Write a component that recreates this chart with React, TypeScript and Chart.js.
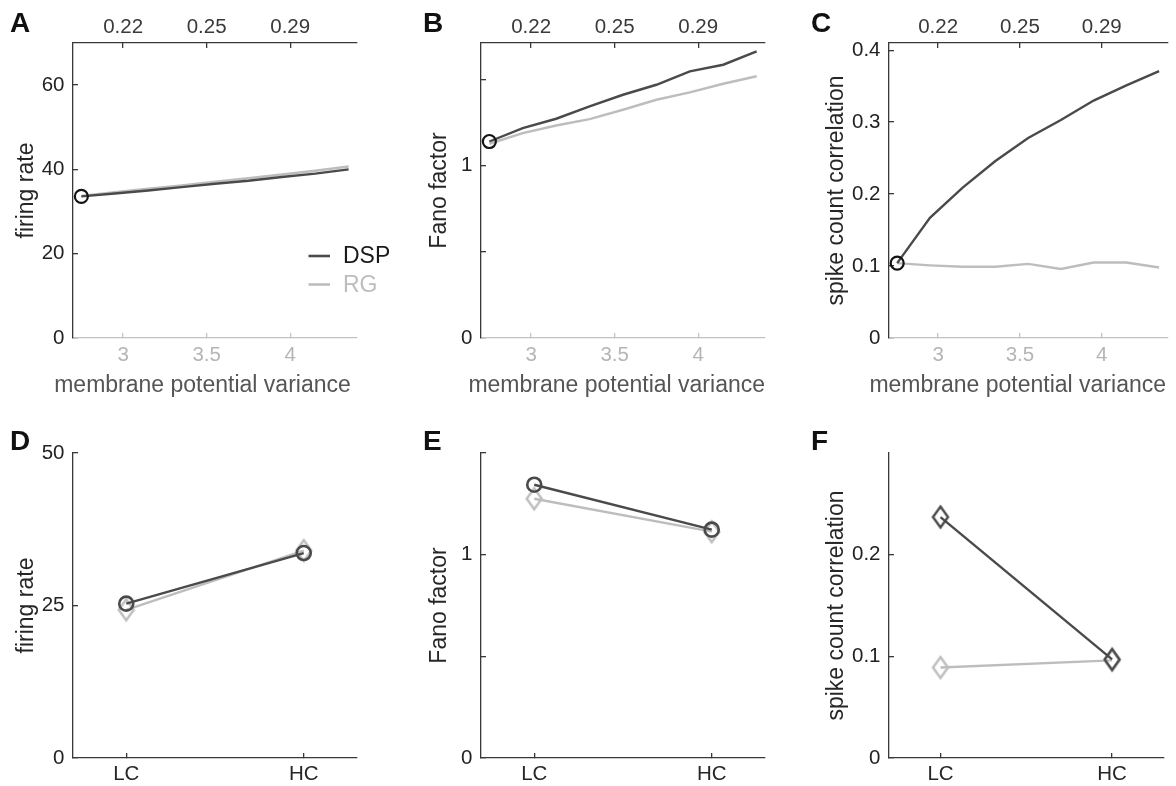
import React, { useEffect, useRef } from 'react';
import { Chart, registerables } from 'chart.js';

Chart.register(...registerables);

const FONT = "'Liberation Sans', Arial, Helvetica, sans-serif";

// ---------------- data ----------------
const variance = [2.75, 2.95, 3.15, 3.35, 3.55, 3.75, 3.95, 4.15, 4.35];
const varianceTicks = [3, 3.5, 4];
const varianceTickLabels = ['3', '3.5', '4'];
const stdTickLabels = ['0.22', '0.25', '0.29'];

const rateDSP = [33.6, 34.3, 35.0, 35.8, 36.6, 37.3, 38.2, 39.0, 40.0];
const rateRG = [33.7, 34.6, 35.4, 36.2, 37.1, 37.9, 38.8, 39.7, 40.7];
const fanoDSP = [1.139, 1.217, 1.271, 1.342, 1.41, 1.468, 1.546, 1.584, 1.662];
const fanoRG = [1.126, 1.188, 1.232, 1.269, 1.323, 1.381, 1.424, 1.474, 1.517];
const corrDSP = [0.104, 0.167, 0.209, 0.246, 0.278, 0.303, 0.33, 0.351, 0.371];
const corrRG = [0.104, 0.101, 0.099, 0.099, 0.103, 0.096, 0.105, 0.105, 0.098];

const conditions = ['LC', 'HC'];
const conditionIndex = [0, 1];
const condRateDSP = [25.3, 33.6];
const condRateRG = [24.3, 34.0];
const condFanoDSP = [1.344, 1.123];
const condFanoRG = [1.275, 1.113];
const condCorrDSP = [0.237, 0.097];
const condCorrRG = [0.089, 0.096];

const seriesNames = ['DSP', 'RG'];

const rateTicks = [0, 20, 40, 60];
const rateTickLabels = ['0', '20', '40', '60'];
const fanoTicks = [0, 0.5, 1, 1.5];
const fanoTickLabels = ['0', '', '1', ''];
const corrTicks = [0, 0.1, 0.2, 0.3, 0.4];
const corrTickLabels = ['0', '0.1', '0.2', '0.3', '0.4'];
const condRateTicks = [0, 25, 50];
const condRateTickLabels = ['0', '25', '50'];
const condCorrTicks = [0, 0.1, 0.2];
const condCorrTickLabels = ['0', '0.1', '0.2'];

const xAxisTitle = 'membrane potential variance';

// ---------------- styles ----------------
const DSP_COLOR = '#4a4a4a';
const RG_COLOR = '#bdbdbd';
const AXIS_DARK = '#383838';
const AXIS_LIGHT = '#c2c2c2';

function makeDiamond(color: string) {
  const c = document.createElement('canvas');
  const hw = 7.5, hh = 10.5, lw = 2.4;
  c.width = Math.ceil(2 * hw + 2 * lw);
  c.height = Math.ceil(2 * hh + 2 * lw);
  const g = c.getContext('2d')!;
  const cx = c.width / 2, cy = c.height / 2;
  g.strokeStyle = color;
  g.lineWidth = lw;
  g.lineJoin = 'miter';
  g.beginPath();
  g.moveTo(cx, cy - hh);
  g.lineTo(cx + hw, cy);
  g.lineTo(cx, cy + hh);
  g.lineTo(cx - hw, cy);
  g.closePath();
  g.stroke();
  return c;
}

const decorPlugin = {
  id: 'panelDecor',
  afterDraw(chart: any, _args: any, opts: any) {
    const ctx = chart.ctx;
    ctx.save();
    if (opts.letter) {
      ctx.font = `bold 28px ${FONT}`;
      ctx.fillStyle = '#111111';
      ctx.textAlign = 'left';
      ctx.textBaseline = 'alphabetic';
      ctx.fillText(opts.letter, opts.letterX, opts.letterY);
    }
    if (opts.xTitle) {
      ctx.font = `23px ${FONT}`;
      ctx.fillStyle = '#555555';
      ctx.textAlign = 'center';
      ctx.textBaseline = 'alphabetic';
      ctx.fillText(opts.xTitle.text, opts.xTitle.cx, opts.xTitle.baseline);
    }
    if (opts.legend) {
      const L = opts.legend;
      chart.data.datasets.forEach((ds: any, i: number) => {
        const y = L.y + i * L.gap;
        ctx.strokeStyle = ds.borderColor;
        ctx.lineWidth = 2.6;
        ctx.beginPath();
        ctx.moveTo(L.x, y);
        ctx.lineTo(L.x + L.len, y);
        ctx.stroke();
        ctx.font = `23px ${FONT}`;
        ctx.fillStyle = L.textColors[i];
        ctx.textAlign = 'left';
        ctx.textBaseline = 'middle';
        ctx.fillText(ds.label, L.textX, y + 1);
      });
    }
    ctx.restore();
  },
};

type Series = { label: string; xs: number[]; ys: number[]; color: string; marker: string };

type PanelSpec = {
  x: number; y: number; w: number; h: number;
  area: { left: number; top: number; right: number; bottom: number };
  letter: string; letterX: number; letterY: number;
  xMin: number; xMax: number; xTicks: number[]; xLabels: string[];
  xAxisColor: string; xTickColor: string; xTickPad: number;
  xTitle?: { text: string; cx: number; baseline: number };
  topLabels?: string[];
  yMax: number; yTicks: number[]; yLabels: string[]; yTitle: string; yTitlePad: number;
  series: Series[];
  legend?: any;
};

function buildConfig(p: PanelSpec): any {
  const tl = -5;
  const tickFont = { family: FONT, size: 20.5 };
  const titleFont = { family: FONT, size: 23 };
  const diamonds: Record<string, HTMLCanvasElement> = {};

  const datasets = p.series.map((s) => {
    const base: any = {
      label: s.label,
      data: s.xs.map((x, i) => ({ x, y: s.ys[i] })),
      borderColor: s.color,
      backgroundColor: s.color,
      borderWidth: 2.4,
      tension: 0,
      pointHoverRadius: 0,
    };
    if (s.marker === 'refCircle') {
      base.pointRadius = (c: any) => (c.dataIndex === 0 ? 6.5 : 0);
      base.pointStyle = 'circle';
      base.pointBorderColor = '#141414';
      base.pointBackgroundColor = 'rgba(0,0,0,0)';
      base.pointBorderWidth = 2.2;
    } else if (s.marker === 'circle') {
      base.pointRadius = 7;
      base.pointStyle = 'circle';
      base.pointBorderColor = s.color;
      base.pointBackgroundColor = 'rgba(0,0,0,0)';
      base.pointBorderWidth = 2.6;
    } else if (s.marker === 'diamond') {
      if (!diamonds[s.color]) diamonds[s.color] = makeDiamond(s.color);
      base.pointStyle = diamonds[s.color];
      base.pointRadius = 10;
    } else {
      base.pointRadius = 0;
    }
    return base;
  });

  const scales: any = {
    x: {
      type: 'linear',
      position: 'bottom',
      min: p.xMin,
      max: p.xMax,
      afterBuildTicks: (s: any) => { s.ticks = p.xTicks.map((v) => ({ value: v })); },
      afterFit: (s: any) => { s.height = p.h - p.area.bottom; },
      border: { display: true, color: p.xAxisColor, width: 1.3 },
      grid: { display: true, drawOnChartArea: false, drawTicks: true, tickLength: tl, color: p.xAxisColor, lineWidth: 1.3 },
      ticks: {
        padding: p.xTickPad, color: p.xTickColor, font: tickFont, autoSkip: false, maxRotation: 0, minRotation: 0,
        callback: (_v: any, i: number) => p.xLabels[i],
      },
      title: { display: false },
    },
    y: {
      type: 'linear',
      position: 'left',
      min: 0,
      max: p.yMax,
      afterBuildTicks: (s: any) => { s.ticks = p.yTicks.map((v) => ({ value: v })); },
      afterFit: (s: any) => { s.width = p.area.left; },
      border: { display: true, color: AXIS_DARK, width: 1.3 },
      grid: { display: true, drawOnChartArea: false, drawTicks: true, tickLength: tl, color: AXIS_DARK, lineWidth: 1.3 },
      ticks: {
        padding: 13.5, color: '#222222', font: tickFont, autoSkip: false,
        callback: (_v: any, i: number) => p.yLabels[i],
      },
      title: { display: true, text: p.yTitle, color: '#262626', font: titleFont, padding: { top: p.yTitlePad, bottom: 0 } },
    },
  };

  if (p.topLabels) {
    scales.x2 = {
      type: 'linear',
      position: 'top',
      min: p.xMin,
      max: p.xMax,
      afterBuildTicks: (s: any) => { s.ticks = p.xTicks.map((v) => ({ value: v })); },
      afterFit: (s: any) => { s.height = p.area.top; },
      border: { display: true, color: AXIS_DARK, width: 1.3 },
      grid: { display: true, drawOnChartArea: false, drawTicks: true, tickLength: tl, color: AXIS_DARK, lineWidth: 1.3 },
      ticks: {
        padding: 8.3, color: '#3a3a3a', font: tickFont, autoSkip: false, maxRotation: 0, minRotation: 0,
        callback: (_v: any, i: number) => p.topLabels![i],
      },
    };
  }

  return {
    type: 'line',
    data: { datasets },
    options: {
      responsive: false,
      maintainAspectRatio: false,
      animation: false,
      events: [],
      layout: {
        padding: { left: 0, top: p.topLabels ? 0 : p.area.top, right: p.w - p.area.right, bottom: 0 },
      },
      scales,
      plugins: {
        legend: { display: false },
        tooltip: { enabled: false },
        title: { display: false },
        panelDecor: { letter: p.letter, letterX: p.letterX, letterY: p.letterY, legend: p.legend, xTitle: p.xTitle },
      },
    },
    plugins: [decorPlugin],
  };
}

const topArea = (l: number, r: number) => ({ left: l, top: 43, right: r, bottom: 338 });
const botArea = (l: number, r: number) => ({ left: l, top: 53, right: r, bottom: 358 });

const topX = {
  xMin: 2.7, xMax: 4.4, xTicks: varianceTicks, xLabels: varianceTickLabels,
  xAxisColor: AXIS_LIGHT, xTickColor: '#b5b5b5', xTickPad: 9.8,
  topLabels: stdTickLabels,
};
const botX = {
  xMin: -0.3, xMax: 1.3, xTicks: conditionIndex, xLabels: conditions,
  xAxisColor: AXIS_DARK, xTickColor: '#262626', xTickPad: 8.8,
};

const panels: PanelSpec[] = [
  {
    x: 0, y: 0, w: 392, h: 400, area: topArea(73, 357), letter: 'A', letterX: 10, letterY: 32,
    ...topX, xTitle: { text: xAxisTitle, cx: 202.5, baseline: 391.5 },
    yMax: 70, yTicks: rateTicks, yLabels: rateTickLabels, yTitle: 'firing rate', yTitlePad: 13.2,
    series: [
      { label: seriesNames[0], xs: variance, ys: rateDSP, color: DSP_COLOR, marker: 'refCircle' },
      { label: seriesNames[1], xs: variance, ys: rateRG, color: RG_COLOR, marker: 'none' },
    ],
    legend: { x: 308.5, len: 21.5, y: 256, gap: 28.5, textX: 343, textColors: ['#1a1a1a', '#bdbdbd'] },
  },
  {
    x: 392, y: 0, w: 392, h: 400, area: topArea(89, 373), letter: 'B', letterX: 31, letterY: 32,
    ...topX, xTitle: { text: xAxisTitle, cx: 224.7, baseline: 391.5 },
    yMax: 1.71, yTicks: fanoTicks, yLabels: fanoTickLabels, yTitle: 'Fano factor', yTitlePad: 34.2,
    series: [
      { label: seriesNames[0], xs: variance, ys: fanoDSP, color: DSP_COLOR, marker: 'refCircle' },
      { label: seriesNames[1], xs: variance, ys: fanoRG, color: RG_COLOR, marker: 'none' },
    ],
  },
  {
    x: 784, y: 0, w: 392, h: 400, area: topArea(105, 388), letter: 'C', letterX: 27, letterY: 32,
    ...topX, xTitle: { text: xAxisTitle, cx: 233.7, baseline: 391.5 },
    yMax: 0.41, yTicks: corrTicks, yLabels: corrTickLabels, yTitle: 'spike count correlation', yTitlePad: 39,
    series: [
      { label: seriesNames[0], xs: variance, ys: corrDSP, color: DSP_COLOR, marker: 'refCircle' },
      { label: seriesNames[1], xs: variance, ys: corrRG, color: RG_COLOR, marker: 'none' },
    ],
  },
  {
    x: 0, y: 400, w: 392, h: 386, area: botArea(73, 357), letter: 'D', letterX: 10, letterY: 50,
    ...botX, yMax: 50, yTicks: condRateTicks, yLabels: condRateTickLabels, yTitle: 'firing rate', yTitlePad: 13.2,
    series: [
      { label: seriesNames[0], xs: conditionIndex, ys: condRateDSP, color: DSP_COLOR, marker: 'circle' },
      { label: seriesNames[1], xs: conditionIndex, ys: condRateRG, color: RG_COLOR, marker: 'diamond' },
    ],
  },
  {
    x: 392, y: 400, w: 392, h: 386, area: botArea(89, 373), letter: 'E', letterX: 31, letterY: 50,
    ...botX, yMax: 1.5, yTicks: fanoTicks, yLabels: fanoTickLabels, yTitle: 'Fano factor', yTitlePad: 34.2,
    series: [
      { label: seriesNames[0], xs: conditionIndex, ys: condFanoDSP, color: DSP_COLOR, marker: 'circle' },
      { label: seriesNames[1], xs: conditionIndex, ys: condFanoRG, color: RG_COLOR, marker: 'diamond' },
    ],
  },
  {
    x: 784, y: 400, w: 392, h: 386, area: botArea(105, 389), letter: 'F', letterX: 27, letterY: 50,
    ...botX, yMax: 0.3, yTicks: condCorrTicks, yLabels: condCorrTickLabels, yTitle: 'spike count correlation', yTitlePad: 39,
    series: [
      { label: seriesNames[0], xs: conditionIndex, ys: condCorrDSP, color: DSP_COLOR, marker: 'diamond' },
      { label: seriesNames[1], xs: conditionIndex, ys: condCorrRG, color: RG_COLOR, marker: 'diamond' },
    ],
  },
];

function Panel({ spec }: { spec: PanelSpec }) {
  const ref = useRef<HTMLCanvasElement>(null);
  useEffect(() => {
    const chart = new Chart(ref.current!, buildConfig(spec));
    return () => chart.destroy();
  }, [spec]);
  return (
    <canvas
      ref={ref}
      width={spec.w}
      height={spec.h}
      style={{ position: 'absolute', left: spec.x, top: spec.y, width: spec.w, height: spec.h }}
    />
  );
}

export default function App() {
  return (
    <div style={{ position: 'fixed', left: 0, top: 0, width: 1176, height: 786, background: '#ffffff', overflow: 'hidden' }}>
      {panels.map((p) => (
        <Panel key={p.letter} spec={p} />
      ))}
    </div>
  );
}
